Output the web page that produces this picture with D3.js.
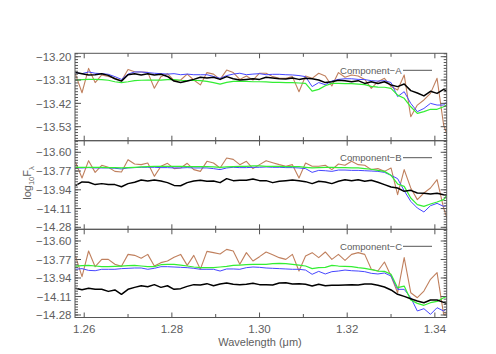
<!DOCTYPE html>
<html><head><meta charset="utf-8">
<script src="https://cdn.jsdelivr.net/npm/d3@7"></script>
<style>body{margin:0;background:#fff;} text{font-family:"Liberation Sans",Arial,sans-serif;}</style>
</head><body>
<script>
const wavelength = [1.2580,1.2595,1.2610,1.2625,1.2640,1.2655,1.2670,1.2685,1.2700,1.2715,1.2730,1.2745,1.2760,1.2775,1.2790,1.2805,1.2820,1.2835,1.2850,1.2865,1.2880,1.2895,1.2910,1.2925,1.2940,1.2955,1.2970,1.2985,1.3000,1.3015,1.3030,1.3045,1.3060,1.3075,1.3090,1.3105,1.3120,1.3135,1.3150,1.3165,1.3180,1.3195,1.3210,1.3225,1.3240,1.3255,1.3270,1.3285,1.3300,1.3315,1.3330,1.3345,1.3360,1.3375,1.3390,1.3405,1.3420,1.3435];

// Component-A
const aBlack = [-13.275,-13.280,-13.286,-13.285,-13.280,-13.288,-13.304,-13.315,-13.285,-13.280,-13.286,-13.280,-13.286,-13.283,-13.293,-13.315,-13.322,-13.315,-13.307,-13.297,-13.300,-13.297,-13.307,-13.294,-13.304,-13.310,-13.307,-13.304,-13.307,
-13.297,-13.300,-13.304,-13.305,-13.300,-13.307,-13.302,-13.304,-13.310,-13.322,-13.318,-13.311,-13.313,-13.318,-13.313,-13.326,-13.318,-13.326,-13.318,-13.333,-13.341,-13.329,-13.360,-13.371,-13.385,-13.363,-13.373,-13.354,-13.373];
const aBlue = [-13.275,-13.280,-13.272,-13.278,-13.280,-13.283,-13.294,-13.307,-13.282,-13.272,-13.272,-13.275,-13.278,-13.280,-13.282,-13.280,-13.285,-13.282,-13.285,-13.285,-13.285,-13.293,-13.302,-13.289,-13.282,-13.278,-13.285,-13.282,-13.280,
-13.285,-13.283,-13.283,-13.285,-13.286,-13.289,-13.294,-13.341,-13.322,-13.332,-13.315,-13.307,-13.304,-13.304,-13.307,-13.308,-13.313,-13.315,-13.313,-13.322,-13.388,-13.365,-13.420,-13.459,-13.444,-13.420,-13.428,-13.428,-13.396];
const aGreen = [-13.310,-13.308,-13.307,-13.307,-13.308,-13.311,-13.318,-13.322,-13.318,-13.313,-13.311,-13.310,-13.310,-13.310,-13.308,-13.308,-13.311,-13.313,-13.311,-13.313,-13.316,-13.322,-13.329,-13.321,-13.316,-13.315,-13.316,-13.318,-13.318,
-13.319,-13.321,-13.321,-13.322,-13.322,-13.324,-13.326,-13.362,-13.354,-13.337,-13.326,-13.326,-13.327,-13.327,-13.329,-13.332,-13.340,-13.343,-13.344,-13.349,-13.381,-13.396,-13.436,-13.467,-13.459,-13.448,-13.448,-13.436,-13.417];
const aBrown = [-13.282,-13.370,-13.255,-13.322,-13.286,-13.293,-13.302,-13.313,-13.260,-13.271,-13.272,-13.274,-13.349,-13.294,-13.280,-13.313,-13.310,-13.282,-13.310,-13.333,-13.275,-13.282,-13.307,-13.263,-13.275,-13.307,-13.291,-13.310,-13.278,
-13.278,-13.294,-13.302,-13.302,-13.294,-13.365,-13.291,-13.302,-13.278,-13.291,-13.338,-13.275,-13.297,-13.286,-13.291,-13.307,-13.349,-13.318,-13.302,-13.341,-13.357,-13.286,-13.483,-13.428,-13.404,-13.373,-13.302,-13.522,-13.609];

// Component-B
const bBlack = [-13.903,-13.869,-13.872,-13.893,-13.884,-13.893,-13.893,-13.912,-13.884,-13.872,-13.851,-13.860,-13.851,-13.860,-13.875,-13.900,-13.903,-13.875,-13.860,-13.854,-13.863,-13.860,-13.875,-13.839,-13.857,-13.854,-13.854,-13.842,-13.857,
-13.857,-13.875,-13.863,-13.857,-13.851,-13.857,-13.866,-13.884,-13.863,-13.869,-13.884,-13.863,-13.848,-13.857,-13.848,-13.863,-13.854,-13.872,-13.893,-13.915,-13.924,-13.954,-13.945,-13.969,-13.972,-13.978,-13.972,-13.984,-13.990];
const bBlue = [-13.742,-13.742,-13.739,-13.742,-13.742,-13.742,-13.745,-13.751,-13.742,-13.739,-13.736,-13.736,-13.736,-13.739,-13.739,-13.742,-13.742,-13.739,-13.742,-13.742,-13.742,-13.748,-13.757,-13.742,-13.736,-13.739,-13.739,-13.736,-13.736,
-13.733,-13.736,-13.736,-13.739,-13.739,-13.742,-13.748,-13.782,-13.764,-13.767,-13.773,-13.761,-13.761,-13.764,-13.764,-13.767,-13.770,-13.773,-13.782,-13.809,-13.839,-13.948,-14.045,-14.105,-14.141,-14.084,-14.063,-14.090,-14.075];
const bGreen = [-13.736,-13.736,-13.736,-13.736,-13.736,-13.739,-13.739,-13.742,-13.739,-13.736,-13.733,-13.730,-13.727,-13.727,-13.727,-13.727,-13.727,-13.730,-13.730,-13.730,-13.730,-13.733,-13.736,-13.733,-13.730,-13.727,-13.727,-13.724,-13.724,
-13.727,-13.727,-13.727,-13.730,-13.730,-13.730,-13.736,-13.742,-13.739,-13.736,-13.736,-13.739,-13.739,-13.742,-13.742,-13.748,-13.754,-13.764,-13.773,-13.809,-13.887,-13.909,-14.014,-14.075,-14.090,-14.069,-14.051,-14.029,-13.948];
const bBrown = [-13.688,-13.833,-13.676,-13.782,-13.718,-13.736,-13.773,-13.779,-13.667,-13.706,-13.712,-13.697,-13.818,-13.727,-13.700,-13.748,-13.742,-13.700,-13.757,-13.773,-13.682,-13.697,-13.742,-13.652,-13.664,-13.712,-13.682,-13.748,-13.712,
-13.676,-13.694,-13.712,-13.727,-13.712,-13.833,-13.697,-13.727,-13.727,-13.718,-13.757,-13.706,-13.718,-13.682,-13.712,-13.718,-13.757,-13.748,-13.773,-13.742,-13.984,-13.757,-13.924,-14.029,-13.969,-13.924,-13.848,-14.105,-14.286];

// Component-C
const cBlack = [-14.035,-14.047,-14.035,-14.044,-14.044,-14.063,-14.050,-14.090,-14.044,-14.026,-14.011,-14.020,-14.001,-14.026,-14.011,-14.044,-14.038,-14.017,-14.001,-14.004,-13.992,-14.011,-13.995,-13.986,-13.998,-14.001,-13.998,-13.989,-14.001,
-14.001,-14.004,-13.986,-13.983,-13.995,-13.992,-13.998,-14.014,-13.998,-14.011,-14.007,-14.007,-14.004,-14.001,-14.004,-13.995,-13.995,-14.007,-14.023,-14.050,-14.090,-14.109,-14.130,-14.151,-14.167,-14.142,-14.142,-14.164,-14.185];
const cBlue = [-13.860,-13.854,-13.870,-13.873,-13.860,-13.860,-13.860,-13.854,-13.851,-13.848,-13.848,-13.860,-13.851,-13.836,-13.836,-13.839,-13.842,-13.845,-13.851,-13.860,-13.860,-13.860,-13.876,-13.857,-13.857,-13.860,-13.845,-13.839,-13.842,
-13.848,-13.851,-13.854,-13.857,-13.860,-13.860,-13.867,-13.906,-13.879,-13.903,-13.882,-13.876,-13.867,-13.873,-13.876,-13.882,-13.897,-13.903,-13.894,-13.922,-14.044,-14.044,-14.121,-14.243,-14.222,-14.274,-14.213,-14.243,-14.197];
const cGreen = [-13.830,-13.827,-13.824,-13.830,-13.836,-13.836,-13.833,-13.830,-13.827,-13.824,-13.830,-13.836,-13.836,-13.818,-13.814,-13.814,-13.821,-13.830,-13.839,-13.845,-13.845,-13.845,-13.839,-13.833,-13.824,-13.821,-13.818,-13.814,-13.814,
-13.814,-13.808,-13.805,-13.808,-13.814,-13.821,-13.830,-13.854,-13.845,-13.842,-13.824,-13.830,-13.833,-13.836,-13.845,-13.851,-13.863,-13.876,-13.879,-13.906,-14.029,-14.014,-14.142,-14.173,-14.191,-14.167,-14.155,-14.121,-14.099];
const cBrown = [-13.738,-13.928,-13.692,-13.836,-13.769,-13.769,-13.814,-13.833,-13.723,-13.732,-13.759,-13.723,-13.830,-13.799,-13.784,-13.750,-13.723,-13.824,-13.732,-13.860,-13.695,-13.707,-13.719,-13.677,-13.692,-13.814,-13.707,-13.784,-13.744,
-13.701,-13.726,-13.753,-13.769,-13.723,-13.876,-13.738,-13.707,-13.753,-13.701,-13.769,-13.723,-13.778,-13.723,-13.707,-13.723,-13.860,-13.876,-13.793,-13.922,-14.075,-13.753,-14.075,-14.121,-14.060,-13.952,-13.891,-14.274,-14.259];

const componentLabels = ["Component\u2212A","Component\u2212B","Component\u2212C"];
const xTickLabels = [1.26,1.28,1.30,1.32,1.34];
const xMinorTicks = [1.26,1.27,1.28,1.29,1.30,1.31,1.32,1.33,1.34];
const yTicksTop = [-13.20,-13.31,-13.42,-13.53];
const yTicksLower = [-13.60,-13.77,-13.94,-14.11,-14.28];

const W = 496, H = 354;
const L = 75, R = 446.7;
const axisColor = "#555", textColor = "#5e5e5e";
const colors = {brown:"#c0805e", blue:"#4646ff", green:"#33ee33", black:"#000"};

const svg = d3.select("body").append("svg").attr("width", W).attr("height", H);

const x = d3.scaleLinear().domain([1.2579, 1.3427]).range([L, R]);

const panels = [
  {label: componentLabels[0], domain: [-13.596, -13.184], top: 53.3, bottom: 140.7, ticks: yTicksTop, minor: 0.11/8,
   series: {brown: aBrown, blue: aBlue, green: aGreen, black: aBlack}},
  {label: componentLabels[1], domain: [-14.298, -13.495], top: 140.7, bottom: 229.3, ticks: yTicksLower, minor: 0.17/7,
   series: {brown: bBrown, blue: bBlue, green: bGreen, black: bBlack}},
  {label: componentLabels[2], domain: [-14.303, -13.4925], top: 229.3, bottom: 317.5, ticks: yTicksLower, minor: 0.17/7,
   series: {brown: cBrown, blue: cBlue, green: cGreen, black: cBlack}}
];

const fmt = v => v.toFixed(2).replace("-", "\u2212");

panels.forEach((p, pi) => {
  const y = d3.scaleLinear().domain(p.domain).range([p.bottom, p.top]);
  const g = svg.append("g");
  const clipId = "clip" + pi;
  svg.append("clipPath").attr("id", clipId).append("rect")
    .attr("x", L).attr("y", p.top).attr("width", R - L).attr("height", p.bottom - p.top);

  const line = d3.line().x((d, i) => x(wavelength[i])).y(d => y(d));
  const lg = g.append("g").attr("clip-path", `url(#${clipId})`);
  [["brown",1.1],["blue",1],["green",1.2],["black",1.5]].forEach(([k, w]) => {
    lg.append("path").datum(p.series[k]).attr("d", line)
      .attr("fill", "none").attr("stroke", colors[k]).attr("stroke-width", w)
      .attr("stroke-linejoin", "round");
  });

  // frame
  g.append("rect").attr("x", L).attr("y", p.top).attr("width", R - L).attr("height", p.bottom - p.top)
    .attr("fill", "none").attr("stroke", axisColor).attr("stroke-width", 1);

  // y minor ticks
  const t0 = p.ticks[0];
  const minors = [];
  for (let k = -20; k <= 60; k++) {
    const v = t0 - k * p.minor;
    if (v < p.domain[1] + 1e-9 && v > p.domain[0] - 1e-9) minors.push(v);
  }
  minors.forEach(v => {
    const yy = y(v);
    g.append("line").attr("x1", L).attr("x2", L + 3).attr("y1", yy).attr("y2", yy).attr("stroke", axisColor);
    g.append("line").attr("x1", R).attr("x2", R - 3).attr("y1", yy).attr("y2", yy).attr("stroke", axisColor);
  });
  p.ticks.forEach(v => {
    const yy = y(v);
    g.append("line").attr("x1", L).attr("x2", L + 6).attr("y1", yy).attr("y2", yy).attr("stroke", axisColor);
    g.append("line").attr("x1", R).attr("x2", R - 6).attr("y1", yy).attr("y2", yy).attr("stroke", axisColor);
    g.append("text").attr("x", L - 3.5).attr("y", yy).attr("dy", "0.36em").attr("text-anchor", "end")
      .attr("font-size", "11.5px").attr("fill", textColor).text(fmt(v));
  });

  // x ticks on top and bottom of panel
  xMinorTicks.forEach(v => {
    const len = xTickLabels.some(t => Math.abs(t - v) < 1e-9) ? 5 : 3.5;
    const xx = x(v);
    g.append("line").attr("x1", xx).attr("x2", xx).attr("y1", p.top).attr("y2", p.top + len).attr("stroke", axisColor);
    g.append("line").attr("x1", xx).attr("x2", xx).attr("y1", p.bottom).attr("y2", p.bottom - len).attr("stroke", axisColor);
  });

  // legend
  const ly = p.top + 17;
  g.append("text").attr("x", 340).attr("y", ly).attr("dy", "0.36em").attr("font-size", "9.6px")
    .attr("fill", textColor).text(p.label);
  g.append("line").attr("x1", 403).attr("x2", 432).attr("y1", ly).attr("y2", ly)
    .attr("stroke", "#555").attr("stroke-width", 1);
});

// x tick labels
xTickLabels.forEach(v => {
  svg.append("text").attr("x", x(v)).attr("y", 333).attr("text-anchor", "middle")
    .attr("font-size", "11.5px").attr("fill", textColor).text(v.toFixed(2));
});

svg.append("text").attr("x", 260).attr("y", 346).attr("text-anchor", "middle")
  .attr("font-size", "11px").attr("fill", textColor).text("Wavelength (\u03bcm)");

const yl = svg.append("text").attr("transform", "translate(31,183) rotate(-90)").attr("text-anchor", "middle")
  .attr("font-size", "11px").attr("fill", textColor);
yl.append("tspan").text("log");
yl.append("tspan").attr("font-size", "7.5px").attr("dy", "3").text("10");
yl.append("tspan").attr("dy", "-3").text("F");
yl.append("tspan").attr("font-size", "7.5px").attr("dy", "3").text("\u03bb");
</script>
</body></html>
